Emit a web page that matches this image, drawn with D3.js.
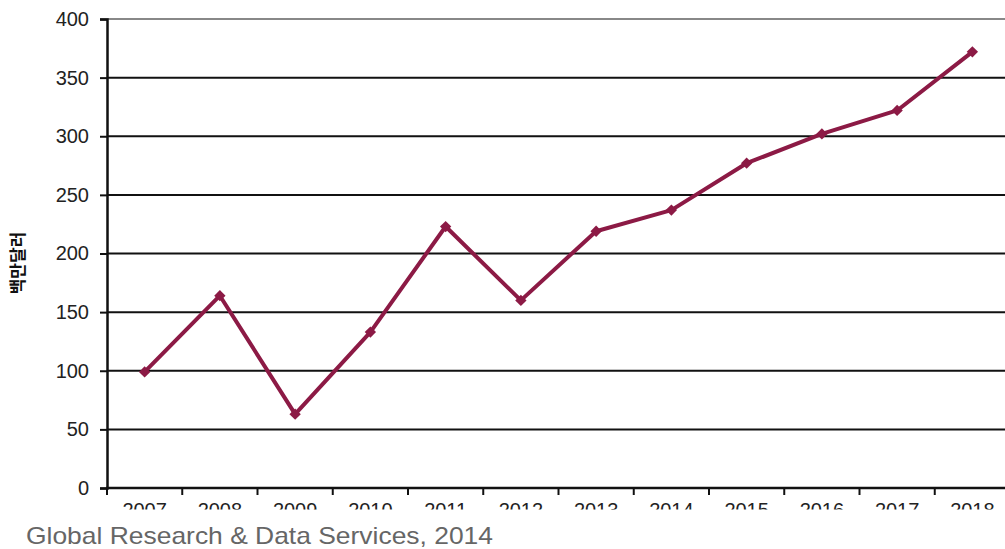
<!DOCTYPE html>
<html>
<head>
<meta charset="utf-8">
<script src="https://cdn.jsdelivr.net/npm/d3@7"></script>
<style>
  body { margin: 0; background: #fff; }
  svg { display: block; }
</style>
</head>
<body>
<svg id="chart"></svg>
<script>
// market size, million USD
const years = ['2007', '2008', '2009', '2010', '2011', '2012', '2013', '2014', '2015', '2016', '2017', '2018'];
const values = [99, 164, 63, 133, 223, 160, 219, 237, 277, 302, 322, 372];
const yTicks = [0, 50, 100, 150, 200, 250, 300, 350, 400];
const yLabel = '백만달러';
const source = 'Global Research & Data Services, 2014';

const width = 1005, height = 549;
const plotLeft = 107, plotRight = 1010, plotTop = 19, plotBottom = 488;

const svg = d3.select('#chart').attr('width', width).attr('height', height);

const x = d3.scaleBand().domain(years).range([plotLeft, plotRight]);
const y = d3.scaleLinear().domain([0, 400]).range([plotBottom, plotTop]);

// gridlines
svg.append('g')
  .selectAll('line')
  .data(yTicks.filter(d => d > 0))
  .enter()
  .append('line')
  .attr('x1', plotLeft)
  .attr('x2', width)
  .attr('y1', d => y(d))
  .attr('y2', d => y(d))
  .attr('stroke', d => d === 400 ? '#888' : '#111')
  .attr('stroke-width', 2);

// y axis
const yAxis = svg.append('g')
  .attr('transform', `translate(${plotLeft},0)`)
  .call(d3.axisLeft(y).tickValues(yTicks).tickSize(7).tickPadding(11));
yAxis.select('.domain').attr('stroke', '#111').attr('stroke-width', 2.5);
yAxis.selectAll('.tick line').attr('stroke', '#111').attr('stroke-width', 2);
yAxis.selectAll('text')
  .attr('font-family', 'Liberation Sans, Arial, sans-serif')
  .attr('font-size', 20)
  .attr('fill', '#222');

// x axis, labels clipped at the picture's lower edge
svg.append('defs').append('clipPath').attr('id', 'xclip')
  .append('rect').attr('x', 0).attr('y', -2).attr('width', width).attr('height', 23.5);

const xAxis = svg.append('g')
  .attr('transform', `translate(0,${plotBottom})`)
  .attr('clip-path', 'url(#xclip)')
  .call(d3.axisBottom(x).tickSize(0).tickPadding(15));
xAxis.select('.domain').remove();
xAxis.selectAll('text')
  .attr('font-family', 'Liberation Sans, Arial, sans-serif')
  .attr('font-size', 20)
  .attr('fill', '#222');

// tick marks between categories
const bounds = years.map(d => x(d)).concat([plotRight]);
svg.append('g')
  .selectAll('line')
  .data(bounds)
  .enter()
  .append('line')
  .attr('x1', d => d)
  .attr('x2', d => d)
  .attr('y1', plotBottom)
  .attr('y2', plotBottom + 7)
  .attr('stroke', '#111')
  .attr('stroke-width', 2);

svg.append('line')
  .attr('x1', plotLeft - 1)
  .attr('x2', width)
  .attr('y1', plotBottom)
  .attr('y2', plotBottom)
  .attr('stroke', '#111')
  .attr('stroke-width', 2.5);

// series
const line = d3.line()
  .x((d, i) => x(years[i]) + x.bandwidth() / 2)
  .y(d => y(d));

svg.append('path')
  .datum(values)
  .attr('d', line)
  .attr('fill', 'none')
  .attr('stroke', '#8c1a45')
  .attr('stroke-width', 4)
  .attr('stroke-linejoin', 'round');

const marker = d3.symbol().type(d3.symbolSquare).size(64);
svg.append('g')
  .selectAll('path')
  .data(values)
  .enter()
  .append('path')
  .attr('d', marker)
  .attr('transform', (d, i) => `translate(${x(years[i]) + x.bandwidth() / 2},${y(d)}) rotate(45)`)
  .attr('fill', '#8c1a45');

// axis title
svg.append('text')
  .attr('transform', 'translate(24,263) rotate(-90)')
  .attr('text-anchor', 'middle')
  .attr('font-family', 'Noto Sans CJK KR, sans-serif')
  .attr('font-size', 17)
  .attr('font-weight', 'bold')
  .attr('fill', '#111')
  .text(yLabel);

// source
svg.append('text')
  .attr('x', 26)
  .attr('y', 544)
  .attr('font-family', 'Liberation Sans, Arial, sans-serif')
  .attr('font-size', 24)
  .attr('textLength', 467)
  .attr('lengthAdjust', 'spacingAndGlyphs')
  .attr('fill', '#666')
  .text(source);
</script>
</body>
</html>
